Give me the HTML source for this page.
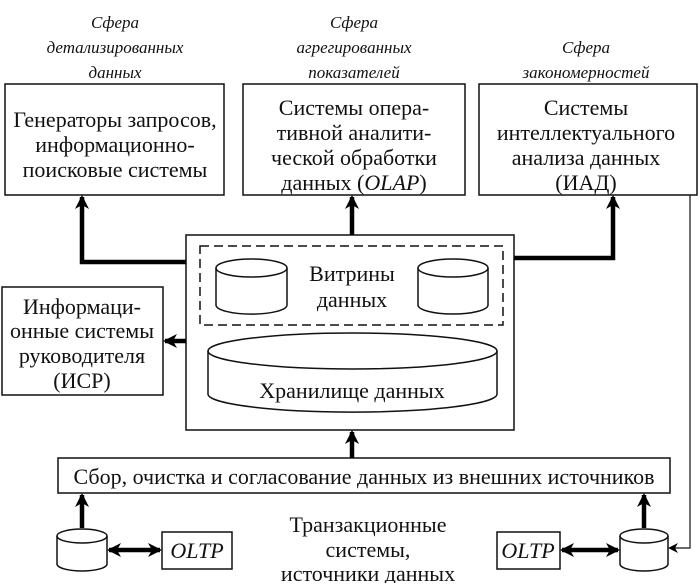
<!DOCTYPE html>
<html><head><meta charset="utf-8"><style>
body{margin:0;background:#fff}
svg text{font-family:"Liberation Serif","DejaVu Serif",serif;font-size:22px;fill:#111}
.i{font-style:italic;font-size:17px}
</style></head><body>
<svg width="699" height="583" viewBox="0 0 699 583" xmlns="http://www.w3.org/2000/svg">
<defs>
<marker id="a" markerWidth="10" markerHeight="10" refX="8" refY="5" orient="auto" markerUnits="userSpaceOnUse" viewBox="0 0 10 10"><path d="M0,0 L10,5 L0,10 L3,5 Z" fill="#000"/></marker>
<marker id="a2" markerWidth="14" markerHeight="14" refX="12" refY="7" orient="auto-start-reverse" markerUnits="userSpaceOnUse" viewBox="0 0 14 14"><path d="M0,0 L14,7 L0,14 L4,7 Z" fill="#000"/></marker>
</defs>
<g fill="none" stroke="#111" stroke-width="1.5">
<rect x="5" y="84" width="219" height="111"/>
<rect x="243" y="84" width="222" height="111"/>
<rect x="479" y="84" width="218" height="111"/>
<rect x="186" y="235" width="328" height="195"/>
<rect x="200" y="246" width="303" height="79" stroke-dasharray="9,5"/>
<rect x="2" y="287" width="161" height="108"/>
<rect x="58" y="458" width="612" height="35"/>
<rect x="162" y="532" width="70" height="37"/>
<rect x="497" y="532" width="63" height="37"/>
<path d="M216,268 v37 a35,9 0 0 0 71,0 v-37"/><ellipse cx="251.5" cy="268" rx="35.5" ry="9"/>
<path d="M418,268 v37 a35,9 0 0 0 70,0 v-37"/><ellipse cx="453" cy="268" rx="35" ry="9"/>
<path d="M208,351 v43 a144,18 0 0 0 289,0 v-43"/><ellipse cx="352.5" cy="351" rx="144.5" ry="18"/>
<path d="M57,536 v28 a25,7 0 0 0 50,0 v-28"/><ellipse cx="82" cy="536" rx="25" ry="7"/>
<path d="M620,536 v28 a24,7 0 0 0 48,0 v-28"/><ellipse cx="644" cy="536" rx="24" ry="7"/>
<path d="M690,195 V548 H670" marker-end="url(#a)" stroke-width="1.2"/>
</g>
<g fill="none" stroke="#000" stroke-width="4.5">
<path d="M186,262 H82 V197" marker-end="url(#a2)"/>
<path d="M352,235 V197" marker-end="url(#a2)"/>
<path d="M514,258 H613 V197" marker-end="url(#a2)"/>
<path d="M186,341 H165" marker-end="url(#a2)"/>
<path d="M352,458 V432" marker-end="url(#a2)"/>
<path d="M82,528 V495" marker-end="url(#a2)"/>
<path d="M644,528 V495" marker-end="url(#a2)"/>
<path d="M109,550 H160" marker-start="url(#a2)" marker-end="url(#a2)"/>
<path d="M562,550 H618" marker-start="url(#a2)" marker-end="url(#a2)"/>
</g>
<g text-anchor="middle">
<text class="i" x="115" y="28">Сфера</text><text class="i" x="115" y="53">детализированных</text><text class="i" x="115" y="78">данных</text>
<text class="i" x="354" y="28">Сфера</text><text class="i" x="354" y="53">агрегированных</text><text class="i" x="354" y="78">показателей</text>
<text class="i" x="586" y="53">Сфера</text><text class="i" x="586" y="78">закономерностей</text>
<text x="115" y="127">Генераторы запросов,</text><text x="115" y="152">информационно-</text><text x="115" y="177">поисковые системы</text>
<text x="354" y="115">Системы опера-</text><text x="354" y="140">тивной аналити-</text><text x="354" y="165">ческой обработки</text><text x="354" y="190">данных (<tspan font-style="italic">OLAP</tspan>)</text>
<text x="586" y="115">Системы</text><text x="586" y="140">интеллектуального</text><text x="586" y="165">анализа данных</text><text x="586" y="190">(ИАД)</text>
<text x="352" y="281">Витрины</text><text x="352" y="307">данных</text>
<text x="352" y="398">Хранилище данных</text>
<text x="82" y="314">Информаци-</text><text x="82" y="338">онные системы</text><text x="82" y="363">руководителя</text><text x="82" y="388">(ИСР)</text>
<text x="364" y="484">Сбор, очистка и согласование данных из внешних источников</text>
<text x="197" y="558" font-style="italic" font-size="20">OLTP</text>
<text x="528" y="558" font-style="italic" font-size="20">OLTP</text>
<text x="368" y="532">Транзакционные</text><text x="368" y="557">системы,</text><text x="368" y="581">источники данных</text>
</g>
</svg>
</body></html>
